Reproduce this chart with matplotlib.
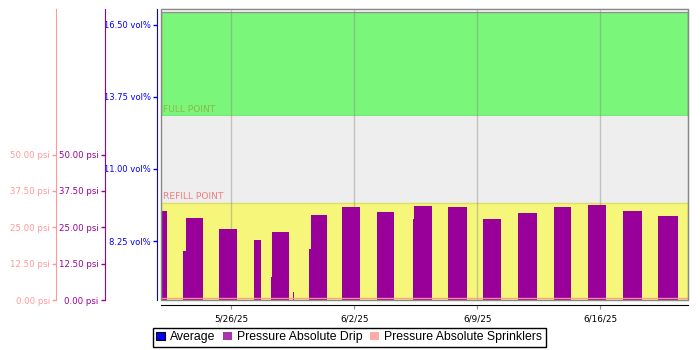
import numpy as np
import matplotlib
matplotlib.use('Agg')
import matplotlib.pyplot as plt
import matplotlib.dates as mdates
from matplotlib.patches import Patch, Rectangle
from matplotlib.ticker import FixedLocator

# time window
t_start = np.datetime64('2025-05-22T00:00')
t_end = np.datetime64('2025-06-21T00:00')
tick_dates = ['2025-05-26', '2025-06-02', '2025-06-09', '2025-06-16']
tick_labels = ['5/26/25', '6/2/25', '6/9/25', '6/16/25']

# soil moisture thresholds (vol%)
full_point = 13.0
refill_point = 9.7
band_top = 17.0
vol_ticks = [8.25, 11.00, 13.75, 16.50]
psi_ticks = [0, 12.5, 25, 37.5, 50]

# drip runs: start (days after t_start), length (days), pressure (psi)
drip_start = [0.00, 1.25, 3.31, 5.31, 6.27, 7.52, 8.44, 10.33, 12.32,
              14.32, 16.31, 18.31, 20.31, 22.36, 24.30, 26.30, 28.29]
drip_len = [0.33, 1.15, 1.03, 0.39, 1.03, 0.03, 1.03, 1.02, 0.97,
            1.08, 1.09, 1.03, 1.08, 0.97, 1.03, 1.08, 1.14]
drip_psi = [30.5, 28.1, 24.3, 20.5, 23.3, 2.7, 29.1, 31.8, 30.1,
            32.2, 31.8, 27.7, 29.8, 31.8, 32.5, 30.5, 28.8]
# lower pressure while the line is filling
lead_len = [0, 0.17, 0, 0, 0.06, 0, 0.10, 0, 0,
            0.06, 0, 0, 0, 0, 0, 0, 0]
lead_psi = [0, 16.8, 0, 0, 7.9, 0, 17.5, 0, 0,
            28.0, 0, 0, 0, 0, 0, 0, 0]

# sprinkler line sits near zero the whole month
spr_days = [0, 30]
spr_psi = [0.6, 0.6]

BLUE = '#0000ff'
PURPLE = '#990099'
PINK = '#ff9999'
PX = 72 / 100  # points per pixel at 100 dpi


def to_num(d):
    return mdates.date2num(np.datetime64(d).astype('datetime64[s]').astype(object))


x0 = to_num(t_start)
x1 = to_num(t_end)

t, p = [], []
for s, n, v, ln, lv in zip(drip_start, drip_len, drip_psi, lead_len, lead_psi):
    t += [s, s, s + ln, s + ln, s + n, s + n]
    p += [0, lv, lv, v, v, 0]
t = x0 + np.array(t)
p = np.array(p)

fig = plt.figure(figsize=(7, 3.5), dpi=100)
ax = fig.add_axes([161 / 700, 50 / 350, 527 / 700, 291 / 350])

# bands
ax.axhspan(full_point, band_top, facecolor='#7af77a', edgecolor='#909090', lw=1, zorder=1)
ax.axhspan(refill_point, full_point, facecolor='#eeeeee', edgecolor='none', zorder=1)
ax.axhspan(6, refill_point, facecolor='#f6f67a', edgecolor='#dede60', lw=1, zorder=1)
ax.text(x0 + 0.12, full_point + 0.08, 'FULL POINT', color='#8cb848', fontsize=6.6,
        va='bottom', ha='left', zorder=3)
ax.text(x0 + 0.12, refill_point + 0.08, 'REFILL POINT', color='#f08080', fontsize=6.6,
        va='bottom', ha='left', zorder=3)

ax.set_xlim(x0, x1)
ax.set_ylim(6, 17.1)

tick_x = [to_num(d) for d in tick_dates]
ax.xaxis.set_major_locator(FixedLocator(tick_x))
ax.set_xticklabels(tick_labels)
for xv in tick_x:
    ax.axvline(xv, color='#808080', alpha=0.4, lw=1, zorder=2)

ax.set_yticks(vol_ticks)
ax.set_yticklabels(['%.2f vol%%' % v for v in vol_ticks])
ax.tick_params(axis='y', colors=BLUE, labelsize=6.0, length=3, width=1, pad=1.5)
ax.tick_params(axis='x', colors='#909090', labelcolor='black', labelsize=6.4, length=3, pad=4)
ax.spines['left'].set_position(('outward', 3.7 * PX))
ax.spines['left'].set_color(BLUE)
ax.spines['bottom'].set_position(('outward', 4.7 * PX))
ax.spines['bottom'].set_color('black')
ax.spines['top'].set_color('#888888')
ax.spines['right'].set_color('#888888')

# drip pressure axis
ax_drip = ax.twinx()
ax_drip.fill_between(t, p, 0, color=PURPLE, lw=0, zorder=2)
ax_drip.set_ylim(0, 100)

# sprinkler pressure axis
ax_spr = ax.twinx()
ax_spr.plot(x0 + np.array(spr_days), spr_psi, color=PINK, lw=1, alpha=0.9)
ax_spr.set_ylim(0, 100)

for a, off, col in [(ax_drip, 56.3, PURPLE), (ax_spr, 104.7, PINK)]:
    a.yaxis.tick_left()
    a.yaxis.set_label_position('left')
    for side in ['top', 'right', 'bottom']:
        a.spines[side].set_visible(False)
    a.spines['left'].set_visible(True)
    a.spines['left'].set_position(('outward', off * PX))
    a.spines['left'].set_color(col)
    a.set_yticks(psi_ticks)
    a.set_yticklabels(['%.2f psi' % v for v in psi_ticks])
    a.tick_params(axis='y', colors=col, labelsize=6.2, length=3, width=1, pad=1.5)

# plot frame on top
ax_spr.add_patch(Rectangle((0, 0), 1, 1, transform=ax_spr.transAxes, fill=False,
                           edgecolor='#888888', lw=1, clip_on=False, zorder=5))

handles = [Patch(facecolor=BLUE, edgecolor='black', lw=0.8),
           Patch(facecolor='#aa33aa', edgecolor='none'),
           Patch(facecolor='#ffaaaa', edgecolor='none')]
labels = ['Average', 'Pressure Absolute Drip', 'Pressure Absolute Sprinklers']
leg = fig.legend(handles, labels, loc='center', bbox_to_anchor=(0.499, 0.036), ncol=3,
                 frameon=True, fancybox=False, framealpha=1, edgecolor='black',
                 prop={'family': 'Liberation Sans', 'size': 8.8},
                 handlelength=0.7, handleheight=0.7, handletextpad=0.45,
                 columnspacing=0.6, borderpad=0.3, borderaxespad=0)
leg.get_frame().set_linewidth(1)

fig.savefig('out.png', dpi=100)
